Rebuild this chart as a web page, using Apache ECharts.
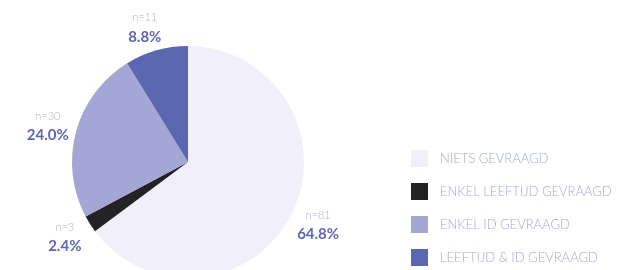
<!DOCTYPE html>
<html>
<head>
<meta charset="utf-8">
<script src="https://cdn.jsdelivr.net/npm/echarts@6/dist/echarts.min.js"></script>
<style>
  html, body { margin: 0; padding: 0; background: #fff; }
  #chart { width: 631px; height: 270px; }
</style>
</head>
<body>
<div id="chart"></div>
<script>
// answers, counts and shares
const categories = ['NIETS GEVRAAGD', 'ENKEL LEEFTIJD GEVRAAGD', 'ENKEL ID GEVRAAGD', 'LEEFTIJD & ID GEVRAAGD']
const counts = [81, 3, 30, 11]
const percents = ['64.8%', '2.4%', '24.0%', '8.8%']
const colors = ['#f1effa', '#232325', '#a4a6d6', '#5b67b0']

const chart = echarts.init(document.getElementById('chart'))

const pieData = categories.map((name, i) => ({
  name: name,
  value: counts[i],
  itemStyle: { color: colors[i] }
}))

chart.setOption({
  animation: false,
  legend: {
    orient: 'vertical',
    left: 411,
    top: 150,
    padding: 0,
    itemWidth: 17,
    itemHeight: 17,
    itemGap: 16,
    icon: 'rect',
    selectedMode: false,
    textStyle: {
      color: '#a6a9dc',
      fontSize: 13,
      fontFamily: 'Lato',
      fontWeight: 300,
      padding: [0, 0, 0, 7]
    },
    data: categories
  },
  series: [
    {
      type: 'pie',
      center: [188, 162],
      radius: 116,
      startAngle: 90,
      clockwise: true,
      avoidLabelOverlap: false,
      silent: true,
      data: pieData,
      label: {
        show: true,
        position: 'outside',
        formatter: (p) => '{n|n=' + counts[p.dataIndex] + '}\n{p|' + percents[p.dataIndex] + '}',
        rich: {
          n: { fontSize: 11, color: '#b0b1cf', fontFamily: 'Lato', fontWeight: 300, lineHeight: 19, align: 'center' },
          p: { fontSize: 15, color: '#5f67b5', fontFamily: 'Lato', fontWeight: 'bold', lineHeight: 19, align: 'center' }
        }
      },
      labelLine: { show: false, length: 24, length2: 0 },
      labelLayout: () => ({ align: 'center', verticalAlign: 'middle' })
    }
  ]
})
</script>
</body>
</html>
